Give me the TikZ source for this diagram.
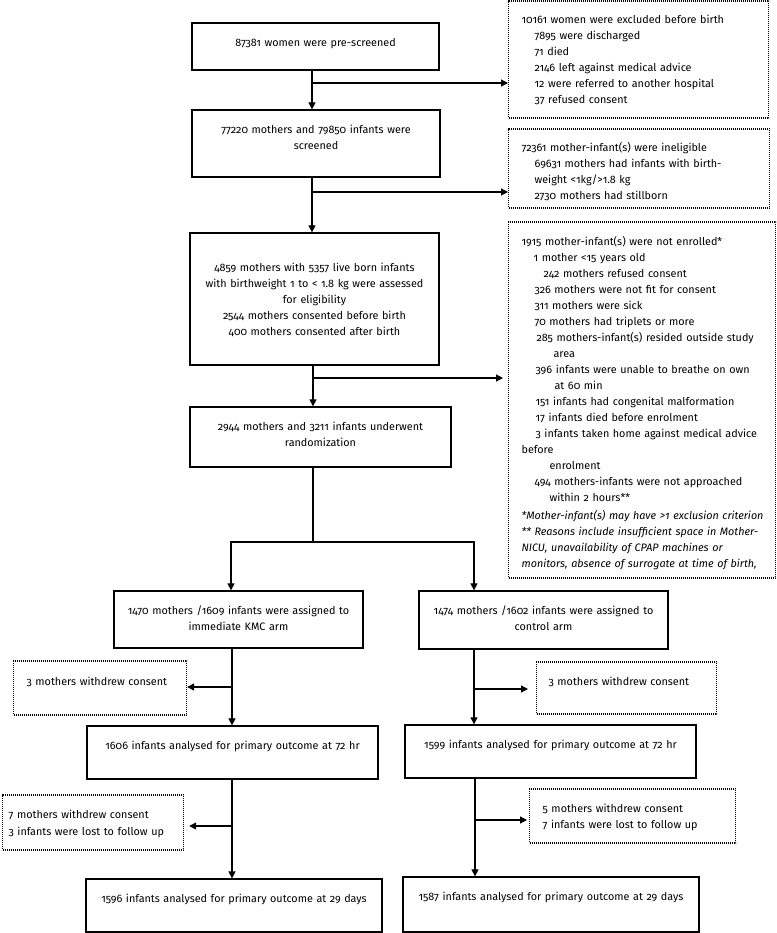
\documentclass[tikz,border=0pt]{standalone}
\usepackage{fontspec}
\setmainfont{Fira Sans}[Numbers=OldStyle]
\usetikzlibrary{arrows.meta}
\begin{document}
\begin{tikzpicture}[x=1pt,y=-1pt,
  every node/.style={font=\fontsize{10.8}{16}\selectfont},
  mainbox/.style={draw, line width=1.3pt, inner sep=0pt, align=center, anchor=base},
  exclbox/.style={draw, line width=1.2pt, dash pattern=on 1.1pt off 0.9pt, inner sep=0pt, align=left, anchor=base west},
  arr/.style={line width=1.2pt, -{Triangle[length=7pt,width=7pt]}},
  ln/.style={line width=1.2pt}]
\useasboundingbox (0,0) rectangle (776,933);

% main boxes
\node[mainbox, text width=247pt, text height=23.5pt, text depth=23.5pt] (b1) at (315.5,46.5) {87381 women were pre-screened};
\node[mainbox, text width=248pt, text height=23.5pt, text depth=43.5pt] (b2) at (316,133.5) {77220 mothers and 79850 infants were\\screened};
\node[mainbox, text width=249pt, text height=38.5pt, text depth=93.5pt] (b3) at (314.5,271.5) {4859 mothers with 5357 live born infants\\with birthweight 1 to < 1.8 kg were assessed\\for eligibility\\2544 mothers consented before birth\\400 mothers consented after birth};
\node[mainbox, text width=261pt, text height=23.5pt, text depth=36.5pt] (b4) at (320.5,430.5) {2944 mothers and 3211 infants underwent\\randomization};
\node[mainbox, text width=249pt, text height=23.5pt, text depth=33.5pt] (b5) at (238.5,614.5) {1470 mothers /1609 infants were assigned to\\immediate KMC arm};
\node[mainbox, text width=249pt, text height=23.5pt, text depth=34.5pt] (b6) at (543.5,614.5) {1474 mothers /1602 infants were assigned to\\control arm};
\node[mainbox, text width=291pt, text height=23.5pt, text depth=29.5pt] (b7) at (232.5,749.5) {1606 infants analysed for primary outcome at 72 hr};
\node[mainbox, text width=291pt, text height=23.5pt, text depth=29.5pt] (b8) at (550.5,748.5) {1599 infants analysed for primary outcome at 72 hr};
\node[mainbox, text width=296pt, text height=23.5pt, text depth=29.5pt] (b9) at (234,902.5) {1596 infants analysed for primary outcome at 29 days};
\node[mainbox, text width=296pt, text height=23.5pt, text depth=31.5pt] (b10) at (551,900.5) {1587 infants analysed for primary outcome at 29 days};

% exclusion boxes
\node[exclbox, text width=260pt, text height=22.5pt, text depth=94.5pt] (eA) at (508,23.5) {%
\hspace*{13pt}10161 women were excluded before birth\\
\hspace*{26pt}7895 were discharged\\
\hspace*{26pt}71 died\\
\hspace*{26pt}2146 left against medical advice\\
\hspace*{26pt}12 were referred to another hospital\\
\hspace*{26pt}37 refused consent};
\node[exclbox, text width=261pt, text height=22.5pt, text depth=56.5pt] (eB) at (508,151.5) {%
\hspace*{13pt}72361 mother-infant(s) were ineligible\\
\hspace*{26pt}69631 mothers had infants with birth-\\
\hspace*{26pt}weight <1kg/>1.8 kg\\
\hspace*{26pt}2730 mothers had stillborn};
\node[exclbox, text width=267pt, text height=23.5pt, text depth=332.5pt] (eC) at (508,245.5) {%
\hspace*{13pt}1915 mother-infant(s) were not enrolled*\\
\hspace*{25pt}1 mother <15 years old\\
\hspace*{35pt}242 mothers refused consent\\
\hspace*{26pt}326 mothers were not fit for consent\\
\hspace*{26pt}311 mothers were sick\\
\hspace*{26pt}70 mothers had triplets or more\\
\hspace*{28pt}285 mothers-infant(s) resided outside study\\
\hspace*{45pt}area\\
\hspace*{27pt}396 infants were unable to breathe on own\\
\hspace*{46pt}at 60 min\\
\hspace*{27pt}151 infants had congenital malformation\\
\hspace*{27pt}17 infants died before enrolment\\
\hspace*{27pt}3 infants taken home against medical advice\\
\hspace*{13pt}before\\
\hspace*{41pt}enrolment\\
\hspace*{26pt}494 mothers-infants were not approached\\
\hspace*{41pt}within 2 hours**\\[2pt]
\hspace*{13pt}\itshape *Mother-infant(s) may have >1 exclusion criterion\\
\hspace*{13pt}\itshape ** Reasons include insufficient space in Mother-\\
\hspace*{13pt}\itshape NICU, unavailability of CPAP machines or\\
\hspace*{13pt}\itshape monitors, absence of surrogate at time of birth,};
\node[exclbox, text width=173pt, text height=24.5pt, text depth=29.5pt] (eD) at (13,685.5) {\hspace*{13pt}3 mothers withdrew consent};
\node[exclbox, text width=180pt, text height=23.5pt, text depth=28.5pt] (eE) at (536,685.5) {\hspace*{12pt}3 mothers withdrew consent};
\node[exclbox, text width=181pt, text height=23.5pt, text depth=31.5pt] (eF) at (2,818.5) {%
\hspace*{6pt}7 mothers withdrew consent\\[0.5pt]
\hspace*{6pt}3 infants were lost to follow up};
\node[exclbox, text width=206pt, text height=23.5pt, text depth=30.5pt] (eG) at (529,812.5) {%
\hspace*{13pt}5 mothers withdrew consent\\
\hspace*{13pt}7 infants were lost to follow up};

% trunk
\coordinate (t1) at (312,83);
\coordinate (t2) at (312,192);
\coordinate (t3) at (313,378);
\draw[arr] (b1.south -| t1) -- (b2.north -| t1);
\draw[arr] (t1) -- (t1 -| eA.west);
\draw[arr] (b2.south -| t2) -- (b3.north -| t2);
\draw[arr] (t2) -- (t2 -| eB.west);
\draw[arr] (b3.south -| t3) -- (b4.north -| t3);
\draw[arr,shorten >=5pt] (t3) -- (t3 -| eC.west);

% split
\coordinate (s) at (313,542);
\coordinate (sl) at (231,542);
\coordinate (sr) at (474,542);
\draw[arr] (b4.south -| s) -- (s) -- (sl) -- (sl |- b5.north);
\draw[arr] (s) -- (sr) -- (sr |- b6.north);

% left arm
\coordinate (l1) at (232,687);
\coordinate (l2) at (232,826);
\draw[arr] (b5.south -| l1) -- (b7.north -| l1);
\draw[arr] (l1) -- (l1 -| eD.east);
\draw[arr] (b7.south -| l2) -- (b9.north -| l2);
\draw[arr,shorten >=5pt] (l2) -- (l2 -| eF.east);

% right arm
\coordinate (r1) at (474,689);
\coordinate (r2) at (475,820);
\draw[arr] (b6.south -| r1) -- (b8.north -| r1);
\draw[arr,shorten >=8pt] (r1) -- (r1 -| eE.west);
\draw[arr] (b8.south -| r2) -- (b10.north -| r2);
\draw[arr,shorten >=2pt] (r2) -- (r2 -| eG.west);
\end{tikzpicture}
\end{document}
